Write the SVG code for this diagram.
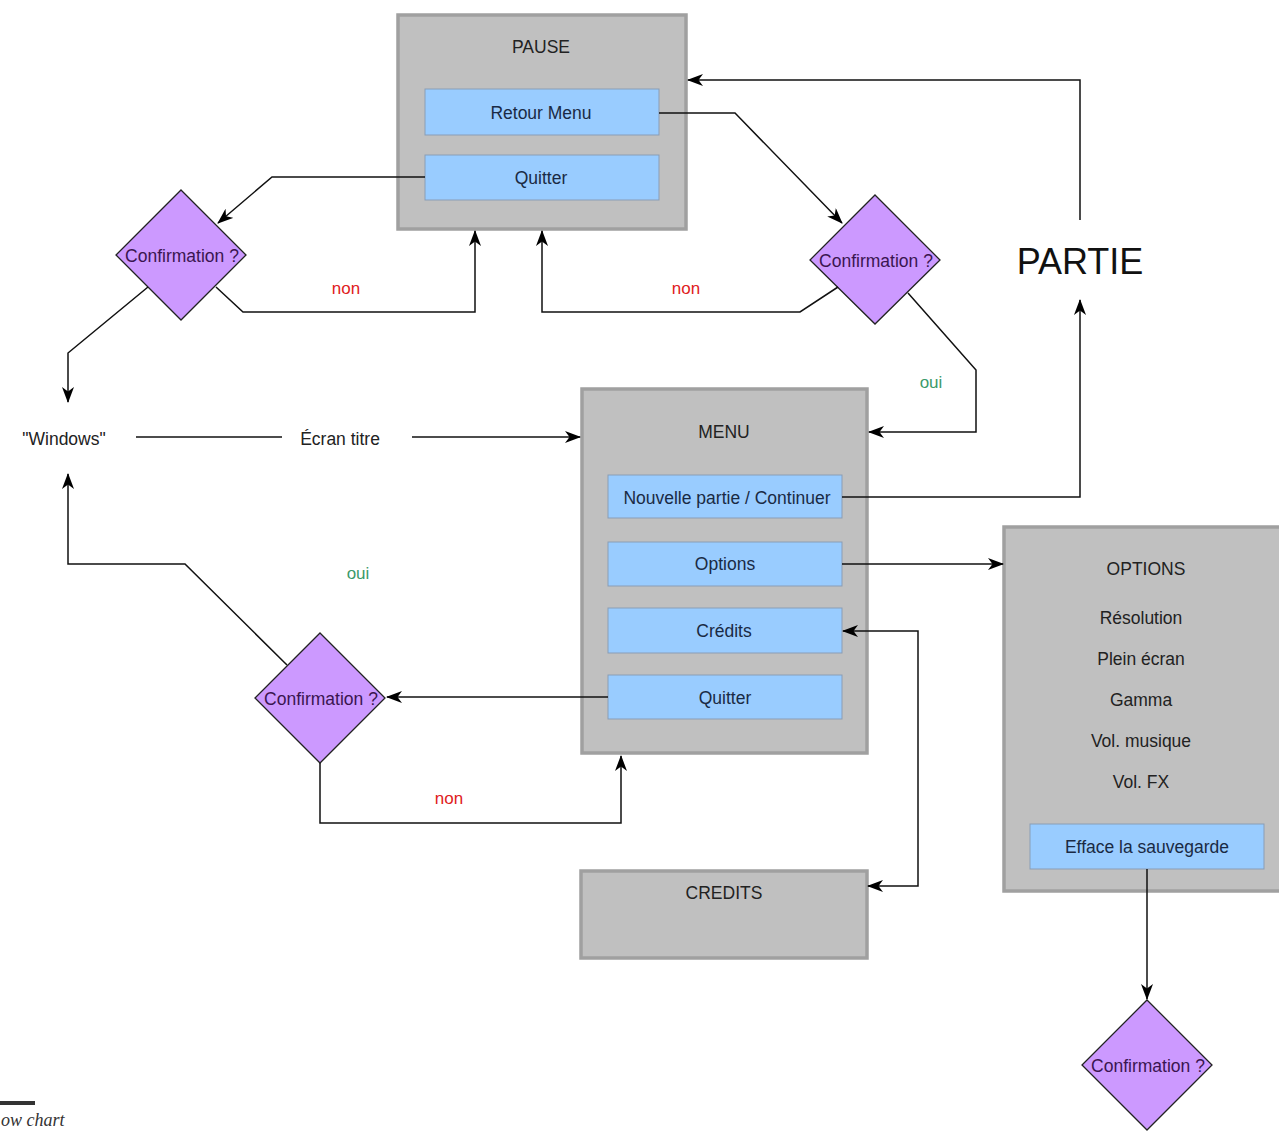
<svg xmlns="http://www.w3.org/2000/svg" width="1279" height="1131" viewBox="0 0 1279 1131">
<defs>
<marker id="arr" viewBox="0 0 16 12" refX="15" refY="6" markerWidth="16" markerHeight="12" markerUnits="userSpaceOnUse" orient="auto-start-reverse">
<path d="M0,0 L16,6 L0,12 L4.5,6 z" fill="#000"/>
</marker>
<style>
.box{fill:#c0c0c0;stroke:#a0a0a0;stroke-width:3.5}
.btn{fill:#99ccff;stroke:#8a9db5;stroke-width:1}
.dia{fill:#cc99ff;stroke:#222;stroke-width:1.3}
.t{font-family:"Liberation Sans",Arial,sans-serif;font-size:17.5px;text-anchor:middle;fill:#222}
.bt{font-family:"Liberation Sans",Arial,sans-serif;font-size:17.5px;text-anchor:middle;fill:#1a2a44}
.dt{font-family:"Liberation Sans",Arial,sans-serif;font-size:17.5px;text-anchor:middle;fill:#3a1550}
.non{font-family:"Liberation Sans",Arial,sans-serif;font-size:17px;text-anchor:middle;fill:#e02020}
.oui{font-family:"Liberation Sans",Arial,sans-serif;font-size:17px;text-anchor:middle;fill:#3a9a6a}
.c{fill:none;stroke:#111;stroke-width:1.5}
.ca{fill:none;stroke:#111;stroke-width:1.5;marker-end:url(#arr)}
</style>
</defs>
<rect width="1279" height="1131" fill="#fff"/>

<g id="pause">
<rect class="box" x="398" y="15" width="288" height="214"/>
<text class="t" x="541" y="53">PAUSE</text>
</g>
<g id="pause-retour">
<rect class="btn" x="425" y="89" width="234" height="46"/>
<text class="bt" x="541" y="119">Retour Menu</text>
</g>
<g id="pause-quitter">
<rect class="btn" x="425" y="155" width="234" height="45"/>
<text class="bt" x="541" y="184">Quitter</text>
</g>

<g id="conf1">
<polygon class="dia" points="181,190 246,255 181,320 116,255"/>
<text class="dt" x="182" y="262">Confirmation ?</text>
</g>
<g id="conf2">
<polygon class="dia" points="875,195 940,260 875,324 810,260"/>
<text class="dt" x="876" y="267">Confirmation ?</text>
</g>
<g id="conf3">
<polygon class="dia" points="320,633 385,698 320,763 255,698"/>
<text class="dt" x="321" y="705">Confirmation ?</text>
</g>
<g id="conf4">
<polygon class="dia" points="1147,1000 1212,1065 1147,1130 1082,1065"/>
<text class="dt" x="1148" y="1072">Confirmation ?</text>
</g>

<g id="menu">
<rect class="box" x="582" y="389" width="285" height="364"/>
<text class="t" x="724" y="438">MENU</text>
</g>
<g id="menu-nouvelle">
<rect class="btn" x="608" y="475" width="234" height="43"/>
<text class="bt" x="727" y="504">Nouvelle partie / Continuer</text>
</g>
<g id="menu-options">
<rect class="btn" x="608" y="542" width="234" height="44"/>
<text class="bt" x="725" y="570">Options</text>
</g>
<g id="menu-credits">
<rect class="btn" x="608" y="608" width="234" height="45"/>
<text class="bt" x="724" y="637">Crédits</text>
</g>
<g id="menu-quitter">
<rect class="btn" x="608" y="675" width="234" height="44"/>
<text class="bt" x="725" y="704">Quitter</text>
</g>

<g id="options">
<rect class="box" x="1004" y="527" width="280" height="364"/>
<text class="t" x="1146" y="575">OPTIONS</text>
<text class="t" x="1141" y="624">Résolution</text>
<text class="t" x="1141" y="665">Plein écran</text>
<text class="t" x="1141" y="706">Gamma</text>
<text class="t" x="1141" y="747">Vol. musique</text>
<text class="t" x="1141" y="788">Vol. FX</text>
</g>
<g id="options-efface">
<rect class="btn" x="1030" y="824" width="234" height="45"/>
<text class="bt" x="1147" y="853">Efface la sauvegarde</text>
</g>

<g id="credits">
<rect class="box" x="581" y="871" width="286" height="87"/>
<text class="t" x="724" y="899">CREDITS</text>
</g>

<g id="partie">
<text x="1080" y="274" font-family="Liberation Sans,Arial,sans-serif" font-size="36" text-anchor="middle" fill="#111">PARTIE</text>
</g>
<g id="windows">
<text class="t" x="64" y="445">"Windows"</text>
</g>
<g id="ecran">
<text class="t" x="340" y="445">Écran titre</text>
</g>

<g id="connectors">
<path class="ca" d="M425,177 L272,177 L218,223"/>
<path class="ca" d="M216,287 L243,312 L475,312 L475,231"/>
<path class="ca" d="M148,287 L68,353 L68,402"/>
<path class="ca" d="M659,113 L735,113 L842,223"/>
<path class="ca" d="M838,287 L800,312 L542,312 L542,231"/>
<path class="ca" d="M908,293 L976,370 L976,432 L869,432"/>
<path class="ca" d="M1080,220 L1080,80 L688,80"/>
<path class="ca" d="M842,497 L1080,497 L1080,300"/>
<path class="ca" d="M842,564 L1003,564"/>
<path class="c" d="M136,437 L282,437"/>
<path class="ca" d="M412,437 L580,437"/>
<path class="ca" style="marker-start:url(#arr)" d="M843,631 L918,631 L918,886 L868,886"/>
<path class="ca" d="M608,697 L387,697"/>
<path class="ca" d="M287,665 L185,564 L68,564 L68,474"/>
<path class="ca" d="M320,763 L320,823 L621,823 L621,756"/>
<path class="ca" d="M1147,869 L1147,999"/>
</g>

<g id="labels">
<text class="non" x="346" y="294">non</text>
<text class="non" x="686" y="294">non</text>
<text class="oui" x="931" y="388">oui</text>
<text class="oui" x="358" y="579">oui</text>
<text class="non" x="449" y="804">non</text>
</g>

<g id="footer">
<line x1="0" y1="1103" x2="35" y2="1103" stroke="#333" stroke-width="4"/>
<text x="1" y="1126" font-family="Liberation Serif,serif" font-style="italic" font-size="18" fill="#333">ow chart</text>
</g>
</svg>
